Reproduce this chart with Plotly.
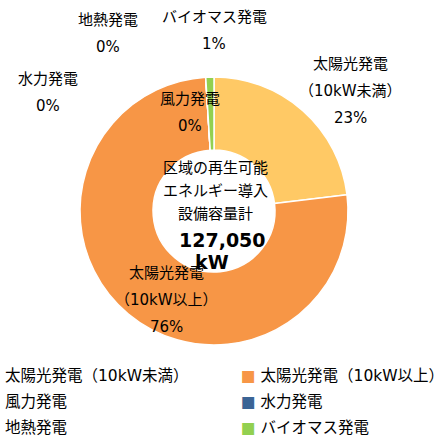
import plotly.graph_objects as go

labels = ["太陽光発電（10kW未満）", "太陽光発電（10kW以上）", "風力発電", "水力発電", "地熱発電", "バイオマス発電"]
label_lines = [["太陽光発電", "（10kW未満）"], ["太陽光発電", "（10kW以上）"], ["風力発電"], ["水力発電"], ["地熱発電"], ["バイオマス発電"]]
values_kw = [29300, 96500, 0, 0, 0, 1250]
colors = ["#FFC965", "#F79646", "#A5A5A5", "#3B6495", "#7F7F7F", "#92D050"]
center_lines = ["区域の再生可能", "エネルギー導入", "設備容量計"]
total_kw = sum(values_kw)

W, H = 437, 442
FONT = "DejaVu Sans, Noto Sans CJK JP, sans-serif"

fig = go.Figure()
fig.add_trace(go.Pie(
    labels=labels, values=values_kw, sort=False, direction="clockwise", rotation=0,
    hole=0.455, textinfo="none", showlegend=False, hoverinfo="label+percent",
    marker=dict(colors=colors, line=dict(color="white", width=1.5)),
    domain=dict(x=[80 / W, 348 / W], y=[1 - 345 / H, 1 - 77 / H]),
))

def px(x, y):
    return x / W, 1 - y / H

ann = []
def add(text, x, y, size=15, bold=False, xanchor="center", color="#000000"):
    ax, ay = px(x, y)
    t = f"<b>{text}</b>" if bold else text
    ann.append(dict(text=t, x=ax, y=ay, xref="paper", yref="paper", showarrow=False,
                    xanchor=xanchor, yanchor="middle", font=dict(family=FONT, size=size, color=color)))

# slice data labels: (center x, first line y)
label_pos = [(350, 64), (166, 273), (190, 99), (48, 79), (108, 20), (214, 17)]
for i, (cx, cy) in enumerate(label_pos):
    pct = round(values_kw[i] / total_kw * 100)
    lines = label_lines[i] + [f"{pct}%"]
    for j, ln in enumerate(lines):
        add(ln, cx, cy + j * 27, size=15)

# center text
for j, ln in enumerate(center_lines):
    add(ln, 215, 168 + j * 23, size=15)
add(f"{total_kw:,}", 222, 240, size=19, bold=True)
add("kW", 212, 262, size=19, bold=True)

# legend (left column markers fall outside the canvas)
leg_rows = [376, 402, 428]
for i, lab in enumerate(labels):
    row = leg_rows[i // 2]
    if i % 2 == 0:
        add(lab, 3, row, size=15.5, xanchor="left")
    else:
        add(f"<span style='color:{colors[i]}'>■</span> {lab}", 239, row, size=15.5, xanchor="left")

fig.update_layout(width=W, height=H, margin=dict(l=0, r=0, t=0, b=0),
                  paper_bgcolor="white", plot_bgcolor="white", annotations=ann)
fig.write_html("out.html", config={"displayModeBar": False},
               post_script="document.body.style.margin='0';document.body.style.overflow='hidden';")
